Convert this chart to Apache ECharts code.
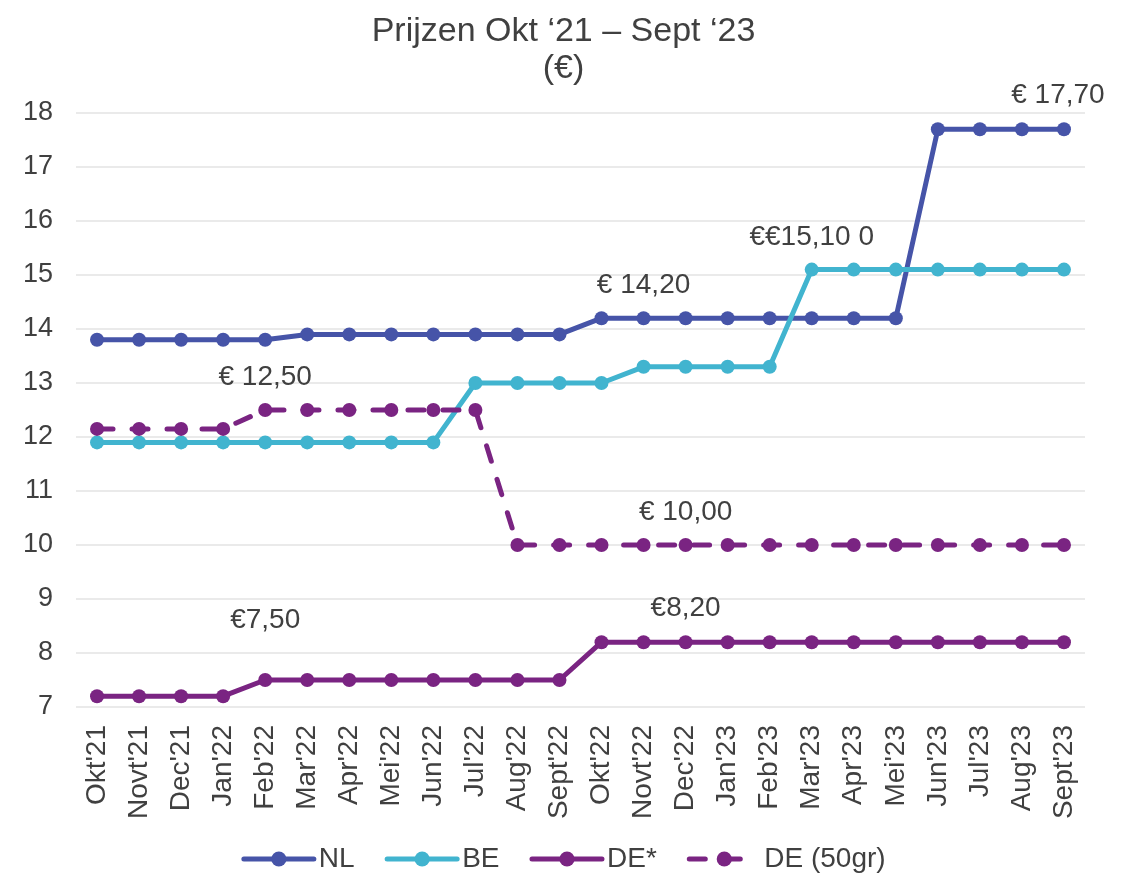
<!DOCTYPE html>
<html>
<head>
<meta charset="utf-8">
<script src="https://cdn.jsdelivr.net/npm/echarts@6/dist/echarts.min.js"></script>
<style>
  html, body { margin: 0; padding: 0; background: #fff; }
  #chart { width: 1127px; height: 876px; }
</style>
</head>
<body>
<div id="chart"></div>
<script>
const months = ["Okt'21", "Novt'21", "Dec'21", "Jan'22", "Feb'22", "Mar'22", "Apr'22", "Mei'22",
  "Jun'22", "Jul'22", "Aug'22", "Sept'22", "Okt'22", "Novt'22", "Dec'22", "Jan'23",
  "Feb'23", "Mar'23", "Apr'23", "Mei'23", "Jun'23", "Jul'23", "Aug'23", "Sept'23"]

const nl = [13.8, 13.8, 13.8, 13.8, 13.8, 13.9, 13.9, 13.9, 13.9, 13.9, 13.9, 13.9,
  14.2, 14.2, 14.2, 14.2, 14.2, 14.2, 14.2, 14.2, 17.7, 17.7, 17.7, 17.7]
const be = [11.9, 11.9, 11.9, 11.9, 11.9, 11.9, 11.9, 11.9, 11.9, 13.0, 13.0, 13.0,
  13.0, 13.3, 13.3, 13.3, 13.3, 15.1, 15.1, 15.1, 15.1, 15.1, 15.1, 15.1]
const de = [7.2, 7.2, 7.2, 7.2, 7.5, 7.5, 7.5, 7.5, 7.5, 7.5, 7.5, 7.5,
  8.2, 8.2, 8.2, 8.2, 8.2, 8.2, 8.2, 8.2, 8.2, 8.2, 8.2, 8.2]
const de50 = [12.15, 12.15, 12.15, 12.15, 12.5, 12.5, 12.5, 12.5, 12.5, 12.5, 10.0, 10.0,
  10.0, 10.0, 10.0, 10.0, 10.0, 10.0, 10.0, 10.0, 10.0, 10.0, 10.0, 10.0]

// annotations: [index, text, x offset, y offset]
const nlNotes = [[13, '€ 14,20', 0, -7], [23, '€ 17,70', -6, -8]]
const beNotes = [[17, '€€15,10 0', 0, -6]]
const deNotes = [[4, '€7,50', 0, -34], [14, '€8,20', 0, -8]]
const de50Notes = [[4, '€ 12,50', 0, -7], [14, '€ 10,00', 0, -7]]

const colors = { nl: '#4654A8', be: '#41B4CF', de: '#7A2482' }
const font = "'Liberation Sans', Arial, sans-serif"
const textColor = '#404040'

function withNotes (values, notes) {
  let data = values.map(v => v)
  notes.forEach(n => {
    data[n[0]] = {
      value: values[n[0]],
      label: {
        show: true,
        position: 'top',
        formatter: n[1],
        offset: [n[2], n[3]],
        fontSize: 28,
        color: textColor,
        fontFamily: font
      }
    }
  })
  return data
}

function lineSeries (name, values, notes, color, dashed) {
  return {
    name: name,
    type: 'line',
    data: withNotes(values, notes),
    symbol: 'circle',
    symbolSize: 14,
    itemStyle: { color: color },
    lineStyle: { color: color, width: 5, type: dashed ? [16, 19] : 'solid', cap: 'round' },
    emphasis: { disabled: true },
    animation: false,
    z: dashed ? 3 : 2
  }
}

const chart = echarts.init(document.getElementById('chart'))
chart.setOption({
  backgroundColor: '#fff',
  title: {
    text: 'Prijzen Okt ‘21 – Sept ‘23\n(€)',
    left: 'center',
    top: 8,
    textStyle: { fontSize: 34, fontWeight: 'normal', color: textColor, fontFamily: font, lineHeight: 37 }
  },
  legend: {
    bottom: -2,
    left: 'center',
    itemWidth: 70,
    itemHeight: 19,
    itemGap: 30,
    lineStyle: { width: 5 },
    textStyle: { fontSize: 28, color: textColor, fontFamily: font },
    data: ['NL', 'BE', 'DE*', 'DE (50gr)']
  },
  grid: { left: 76, right: 42, top: 113, bottom: 169 },
  xAxis: {
    type: 'category',
    data: months,
    boundaryGap: true,
    axisLine: { show: false },
    axisTick: { show: false },
    axisLabel: { rotate: 90, fontSize: 28, color: textColor, fontFamily: font, margin: 18, interval: 0 }
  },
  yAxis: {
    type: 'value',
    min: 7,
    max: 18,
    interval: 1,
    axisLine: { show: false },
    axisTick: { show: false },
    axisLabel: { fontSize: 27, color: textColor, fontFamily: font, margin: 23 },
    splitLine: { lineStyle: { color: '#E3E3E3', width: 1.5 } }
  },
  series: [
    lineSeries('NL', nl, nlNotes, colors.nl, false),
    lineSeries('BE', be, beNotes, colors.be, false),
    lineSeries('DE*', de, deNotes, colors.de, false),
    lineSeries('DE (50gr)', de50, de50Notes, colors.de, true)
  ]
})
</script>
</body>
</html>
